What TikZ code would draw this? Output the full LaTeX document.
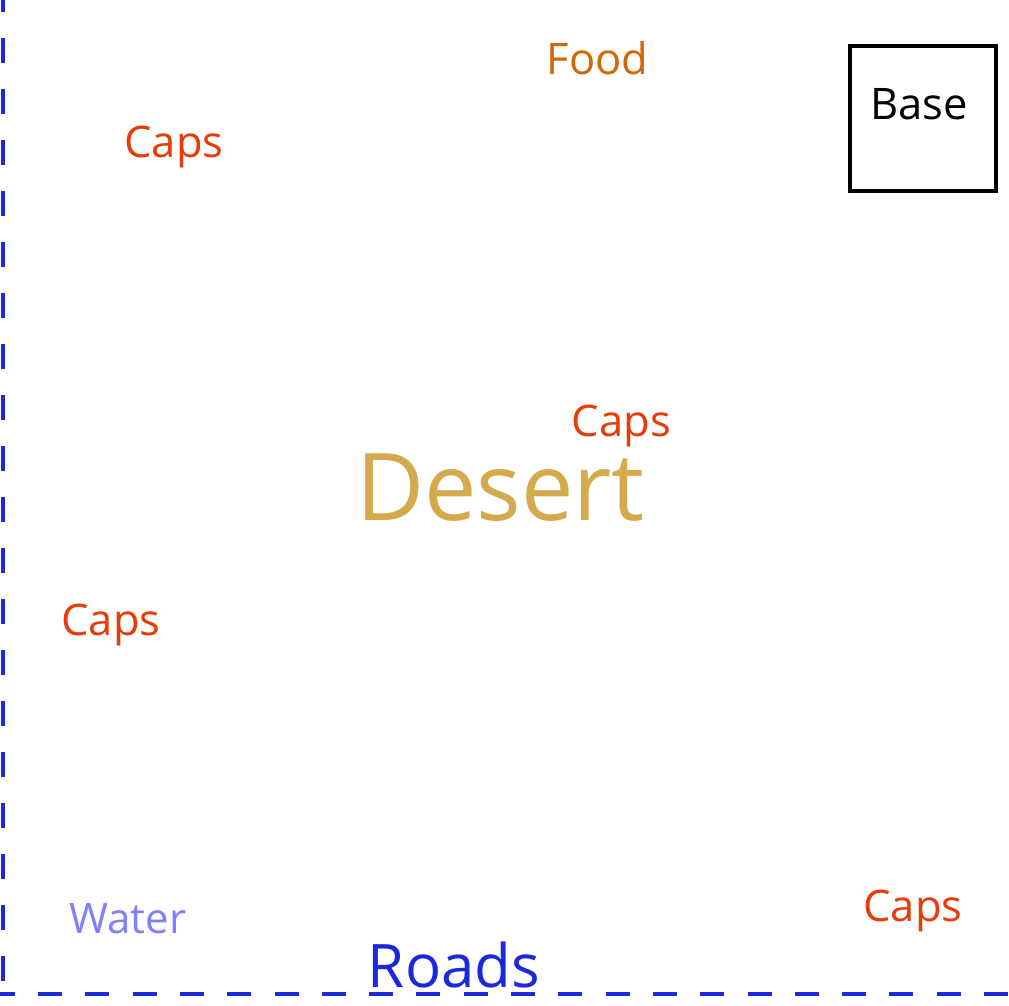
\documentclass[tikz,border=0pt]{standalone}
\usepackage{fontspec}
\setmainfont{Open Sans}
\definecolor{capsc}{RGB}{232,60,8}
\definecolor{foodc}{RGB}{208,104,8}
\definecolor{desertc}{RGB}{212,170,76}
\definecolor{waterc}{RGB}{128,128,255}
\definecolor{roadc}{RGB}{28,40,220}
\tikzset{
  lbl/.style={anchor=base,inner sep=0pt,outer sep=0pt},
  capslbl/.style={lbl,text=capsc,font=\fontsize{43.5}{50}\selectfont},
  roadline/.style={draw=roadc,line width=4.5pt},
}
\begin{document}
\begin{tikzpicture}[x=1pt,y=-1pt]
\useasboundingbox (0,0) rectangle (1009,1005);
\fill[white] (0,0) rectangle (1009,1005);
% roads (dashed border)
\draw[roadline,dash pattern=on 25pt off 26pt,dash phase=13pt] (3,0) -- (3,994);
\draw[roadline,dash pattern=on 24pt off 23.3pt,dash phase=9.3pt] (0,994) -- (1009,994);
% base
\node[draw,line width=4pt,minimum width=146pt,minimum height=145pt,inner sep=0pt] (baseb) at (923,118.5) {};
\node[lbl,font=\fontsize{43.5}{50}\selectfont] (base) at (919,119) {Base};
% labels
\node[lbl,text=foodc,font=\fontsize{43.5}{50}\selectfont] (food) at (597.5,74) {Food};
\node[capslbl] (caps1) at (174,157) {Caps};
\node[capslbl] (caps2) at (621.5,436) {Caps};
\node[capslbl] (caps3) at (111,635) {Caps};
\node[capslbl] (caps4) at (913,921) {Caps};
\node[lbl,text=desertc,font=\fontsize{93.5}{100}\selectfont] (desert) at (500.5,520) {Desert};
\node[lbl,text=waterc,font=\fontsize{42}{50}\selectfont] (water) at (128,933) {Water};
\node[lbl,text=roadc,font=\fontsize{60}{70}\selectfont] (roads) at (454,987) {Roads};
\end{tikzpicture}
\end{document}
